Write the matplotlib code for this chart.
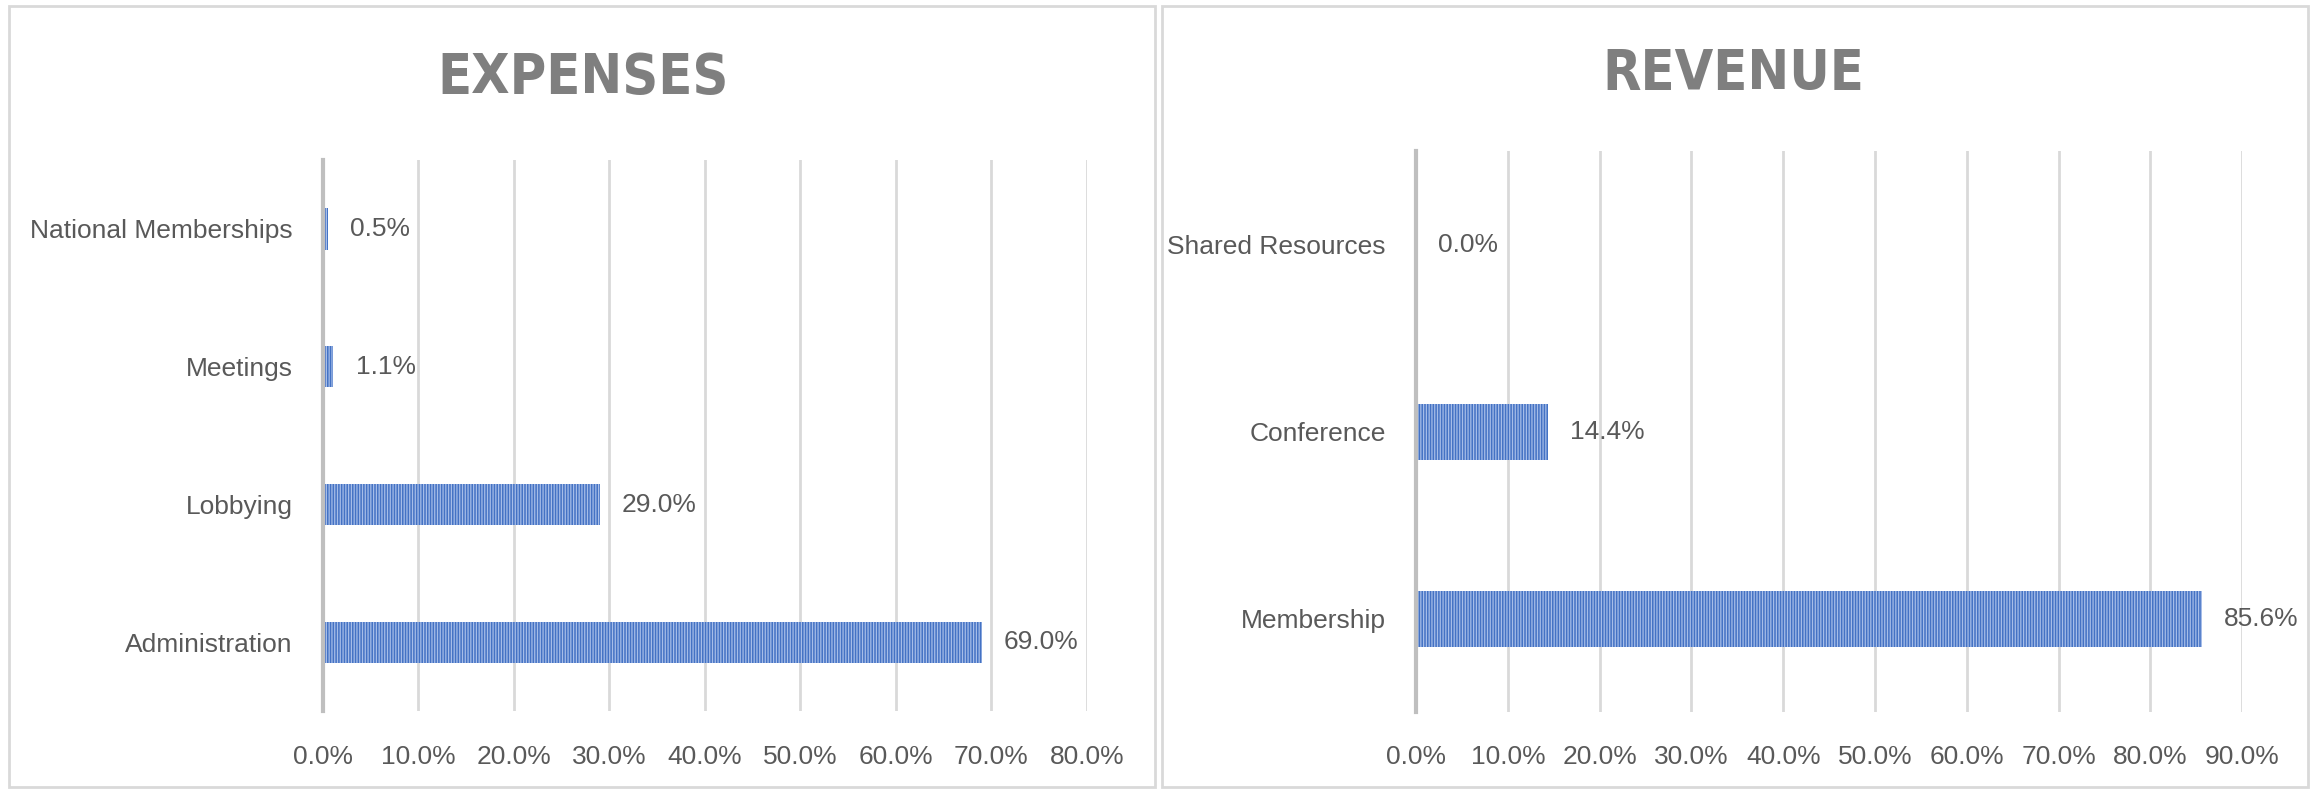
import matplotlib
matplotlib.use("Agg")
import matplotlib.pyplot as plt
from matplotlib.patches import Rectangle
from matplotlib.ticker import PercentFormatter

# data (bottom to top, as drawn)
exp_categories = ["Administration", "Lobbying", "Meetings", "National Memberships"]
exp_values = [69.0, 29.0, 1.1, 0.5]
exp_ticks = [0, 10, 20, 30, 40, 50, 60, 70, 80]

rev_categories = ["Membership", "Conference", "Shared Resources"]
rev_values = [85.6, 14.4, 0.0]
rev_ticks = [0, 10, 20, 30, 40, 50, 60, 70, 80, 90]

plt.rcParams["font.family"] = ["Liberation Sans", "DejaVu Sans"]
plt.rcParams["hatch.linewidth"] = 0.9

text_color = "#595959"
bar_color = "#4472c4"
stripe_color = "#a6bde8"

fig = plt.figure(figsize=(23.15, 7.92), dpi=100)

# chart frames
for x0, w in [(0.004, 0.495), (0.502, 0.495)]:
    fig.add_artist(Rectangle((x0, 0.006), w, 0.986, transform=fig.transFigure,
                             fill=False, edgecolor="#d9d9d9", linewidth=2))


def draw_panel(rect, title, title_xy, cats, vals, ticks):
    ax = fig.add_axes(rect)
    ax.barh(cats, vals, height=0.3, color=bar_color, edgecolor=stripe_color,
            linewidth=0, hatch="||||||", zorder=3)
    ax.set_xlim(ticks[0], ticks[-1])
    ax.set_ylim(-0.5, len(cats) - 0.5)
    ax.set_xticks(ticks)
    ax.xaxis.set_major_formatter(PercentFormatter(decimals=1))
    ax.grid(axis="x", color="#d9d9d9", linewidth=2, zorder=0)
    ax.set_axisbelow(True)
    for s in ["top", "right", "bottom"]:
        ax.spines[s].set_visible(False)
    ax.spines["left"].set_color("#bfbfbf")
    ax.spines["left"].set_linewidth(3)
    ax.spines["left"].set_zorder(4)
    ax.tick_params(length=0, labelsize=19, colors=text_color)
    ax.tick_params(axis="x", pad=24)
    ax.tick_params(axis="y", pad=22)
    for i, v in enumerate(vals):
        ax.annotate(f"{v:.1f}%", (v, i), xytext=(16, 0), textcoords="offset points",
                    va="center", ha="left", fontsize=19, color=text_color)
    fig.text(title_xy[0], title_xy[1], title, ha="center", va="center",
             fontsize=40, fontweight="bold", color="#7f7f7f",
             family="DejaVu Sans", fontstretch="condensed")
    return ax


draw_panel([0.1395, 0.102, 0.330, 0.696], "EXPENSES", (0.252, 0.902),
           exp_categories, exp_values, exp_ticks)
draw_panel([0.6117, 0.101, 0.3568, 0.708], "REVENUE", (0.7487, 0.907),
           rev_categories, rev_values, rev_ticks)

fig.savefig("out.png", dpi=100, facecolor="white")
